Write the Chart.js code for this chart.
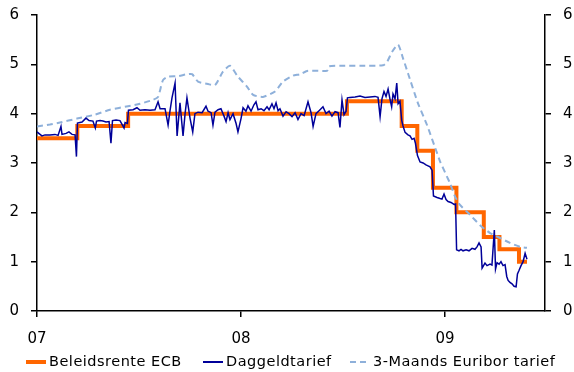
<!DOCTYPE html>
<html>
<head>
<meta charset="utf-8">
<script src="https://cdn.jsdelivr.net/npm/chart.js@4/dist/chart.umd.min.js"></script>
<style>
  html, body { margin: 0; padding: 0; background: #fff; }
  #wrap { position: relative; width: 574px; height: 372px; overflow: hidden; }
  #c { position: absolute; left: 0; top: 0; }
  #legend { position: absolute; left: 0; top: 352px; width: 574px; height: 20px;
            font-family: 'DejaVu Sans', Verdana, sans-serif; font-size: 14.5px; color: #000; }
  #legend .item { position: absolute; top: 0; height: 20px; white-space: nowrap; }
  #legend svg { position: absolute; left: 0; top: 0; }
  #legend .txt { position: absolute; top: 1px; line-height: 17px; letter-spacing: 0.5px; }
</style>
</head>
<body>
<div id="wrap">
  <canvas id="c" width="574" height="372"></canvas>
  <div id="legend"></div>
</div>
<script>
// Time axis is measured in months since January 2007.
const yearTickMonths = [0, 12, 24];
const yearLabels = ['07', '08', '09'];

// ECB main refinancing rate (%), value valid from each change date.
const ecbMonths = [0, 2.37, 5.36, 18.23, 21.45, 22.37, 23.29, 24.67, 26.28, 27.20, 28.35, 28.82];
const ecbRates  = [3.50, 3.75, 4.00, 4.25, 3.75, 3.25, 2.50, 2.00, 1.50, 1.25, 1.00, 1.00];

// Overnight rate (%).
const overnightMonths = [
  0.00, 0.18, 0.29, 0.47, 0.76, 1.06, 1.24, 1.41, 1.47, 1.71,
  1.88, 2.06, 2.24, 2.32, 2.38, 2.65, 2.88, 3.06, 3.29, 3.43,
  3.50, 3.71, 3.88, 4.06, 4.24, 4.35, 4.44, 4.65, 4.88, 5.12,
  5.18, 5.32, 5.38, 5.65, 5.88, 6.06, 6.35, 6.65, 6.94, 7.12,
  7.24, 7.53, 7.71, 7.82, 7.94, 8.12, 8.24, 8.41, 8.59, 8.71,
  8.82, 9.00, 9.16, 9.29, 9.47, 9.71, 9.94, 10.06, 10.24, 10.35,
  10.47, 10.65, 10.82, 11.00, 11.12, 11.24, 11.35, 11.53, 11.71, 11.82,
  12.00, 12.12, 12.29, 12.41, 12.59, 12.76, 12.88, 13.00, 13.18, 13.35,
  13.53, 13.65, 13.82, 13.94, 14.06, 14.18, 14.29, 14.47, 14.65, 14.82,
  15.00, 15.18, 15.35, 15.53, 15.71, 15.94, 16.12, 16.24, 16.41, 16.59,
  16.82, 17.00, 17.18, 17.35, 17.53, 17.71, 17.82, 17.94, 18.06, 18.18,
  18.26, 18.41, 18.71, 19.00, 19.29, 19.59, 19.88, 20.06, 20.18, 20.29,
  20.41, 20.53, 20.65, 20.76, 20.86, 20.94, 21.06, 21.16, 21.24, 21.35,
  21.45, 21.53, 21.65, 21.82, 21.94, 22.06, 22.18, 22.26, 22.38, 22.53,
  22.71, 22.88, 23.12, 23.24, 23.32, 23.53, 23.71, 23.82, 23.94, 24.06,
  24.18, 24.35, 24.53, 24.62, 24.68, 24.82, 24.94, 25.06, 25.24, 25.41,
  25.59, 25.76, 25.88, 26.00, 26.12, 26.18, 26.35, 26.47, 26.65, 26.76,
  26.90, 26.97, 27.06, 27.18, 27.29, 27.41, 27.53, 27.63, 27.71, 27.82,
  27.94, 28.06, 28.18, 28.26, 28.35, 28.47, 28.59, 28.71, 28.82
];
const overnightRates = [
  3.63, 3.58, 3.55, 3.57, 3.57, 3.58, 3.56, 3.74, 3.58, 3.60,
  3.63, 3.58, 3.57, 3.13, 3.81, 3.83, 3.91, 3.86, 3.85, 3.71,
  3.85, 3.86, 3.85, 3.83, 3.84, 3.40, 3.86, 3.87, 3.86, 3.71,
  3.82, 3.80, 4.07, 4.08, 4.12, 4.07, 4.08, 4.07, 4.08, 4.24,
  4.10, 4.10, 3.77, 4.05, 4.32, 4.62, 3.55, 4.22, 3.55, 4.00,
  4.32, 3.91, 3.63, 4.00, 4.03, 4.02, 4.15, 4.05, 4.02, 3.77,
  4.03, 4.08, 4.10, 3.95, 3.84, 4.02, 3.88, 4.00, 3.80, 3.63,
  3.90, 4.12, 4.05, 4.16, 4.05, 4.18, 4.24, 4.08, 4.10, 4.06,
  4.14, 4.08, 4.20, 4.10, 4.22, 4.06, 4.10, 3.95, 4.04, 4.00,
  3.94, 4.02, 3.88, 4.00, 3.96, 4.24, 4.02, 3.74, 4.00, 4.06,
  4.14, 4.00, 4.05, 3.95, 4.04, 4.02, 3.72, 4.28, 3.98, 4.05,
  4.32, 4.33, 4.34, 4.36, 4.33, 4.34, 4.35, 4.33, 3.94, 4.30,
  4.45, 4.35, 4.50, 4.30, 4.14, 4.40, 4.30, 4.62, 4.20, 4.25,
  3.87, 3.75, 3.62, 3.57, 3.55, 3.48, 3.50, 3.40, 3.15, 3.02,
  3.00, 2.96, 2.92, 2.85, 2.33, 2.30, 2.28, 2.27, 2.37, 2.26,
  2.22, 2.20, 2.16, 2.17, 1.24, 1.22, 1.25, 1.22, 1.24, 1.22,
  1.27, 1.25, 1.30, 1.38, 1.30, 0.87, 0.97, 0.92, 0.95, 0.93,
  1.64, 0.85, 0.98, 0.95, 1.00, 0.92, 0.94, 0.70, 0.62, 0.58,
  0.55, 0.50, 0.49, 0.75, 0.82, 0.92, 1.00, 1.17, 1.05
];

// 3-month Euribor (%).
const euriborMonths = [
  0.00, 0.76, 1.35, 2.35, 3.41, 4.29, 5.35, 6.06, 6.82, 7.12,
  7.41, 7.71, 8.29, 8.82, 9.12, 9.47, 10.06, 10.47, 10.94, 11.35,
  11.82, 12.35, 12.71, 13.29, 14.00, 14.47, 15.06, 15.47, 15.94, 17.06,
  17.18, 18.12, 19.00, 20.35, 20.59, 20.88, 21.24, 21.53, 21.82, 22.41,
  22.94, 23.53, 23.71, 24.12, 24.29, 24.59, 24.88, 25.47, 26.06, 26.65,
  27.24, 27.82, 28.41, 28.82
];
const euriborRates = [
  3.74, 3.78, 3.82, 3.90, 3.98, 4.08, 4.15, 4.20, 4.28, 4.34,
  4.68, 4.75, 4.76, 4.80, 4.80, 4.65, 4.60, 4.58, 4.85, 4.97,
  4.75, 4.55, 4.38, 4.34, 4.45, 4.65, 4.77, 4.80, 4.87, 4.87,
  4.96, 4.97, 4.97, 4.98, 5.05, 5.25, 5.40, 5.12, 4.82, 4.21,
  3.77, 3.20, 3.03, 2.72, 2.59, 2.32, 2.15, 1.95, 1.74, 1.58,
  1.48, 1.38, 1.30, 1.28
];

const seriesNames = ['Beleidsrente ECB', 'Daggeldtarief', '3-Maands Euribor tarief'];

function toPoints(xs, ys) {
  const n = Math.min(xs.length, ys.length);
  const out = [];
  for (let i = 0; i < n; i++) out.push({ x: xs[i], y: ys[i] });
  return out;
}

const FONT = "'DejaVu Sans', Verdana, sans-serif";
Chart.defaults.font.family = FONT;
Chart.defaults.font.size = 14;
Chart.defaults.color = '#000';

const blackGrid = { display: true, drawOnChartArea: false, drawTicks: true, tickLength: 6, color: '#000', lineWidth: 1.5 };
const blackBorder = { display: true, color: '#000', width: 1.5 };

function yAxis(position, width) {
  return {
    position,
    min: 0,
    max: 6,
    ticks: { stepSize: 1, padding: 12, color: '#000', font: { size: 15 } },
    grid: blackGrid,
    border: blackBorder,
    afterFit(scale) {
      scale.width = width;
      scale.paddingTop = 0;
      scale.paddingBottom = 0;
    }
  };
}

const chart = new Chart(document.getElementById('c'), {
  type: 'line',
  data: {
    datasets: [
      {
        label: seriesNames[0],
        data: toPoints(ecbMonths, ecbRates),
        borderColor: '#FF6600',
        borderWidth: 4,
        stepped: true,
        pointRadius: 0,
        order: 2
      },
      {
        label: seriesNames[1],
        data: toPoints(overnightMonths, overnightRates),
        borderColor: '#000099',
        borderWidth: 1.5,
        pointRadius: 0,
        tension: 0,
        order: 0
      },
      {
        label: seriesNames[2],
        data: toPoints(euriborMonths, euriborRates),
        borderColor: '#8EB0DA',
        borderWidth: 2,
        borderDash: [6, 4],
        pointRadius: 0,
        tension: 0.2,
        order: 1
      }
    ]
  },
  options: {
    responsive: false,
    animation: false,
    devicePixelRatio: 1,
    layout: { padding: { top: 15, bottom: 25, left: 0, right: 0 } },
    plugins: {
      tooltip: { enabled: false },
      legend: { display: false }
    },
    scales: {
      x: {
        type: 'linear',
        min: 0,
        max: 29.88,
        afterBuildTicks(scale) {
          scale.ticks = yearTickMonths.map(v => ({ value: v }));
        },
        afterFit(scale) { scale.height = 36; },
        ticks: {
          autoSkip: false,
          maxRotation: 0,
          padding: 13,
          color: '#000',
          font: { size: 15 },
          callback(value) {
            const i = yearTickMonths.indexOf(value);
            return i >= 0 ? yearLabels[i] : '';
          }
        },
        grid: blackGrid,
        border: blackBorder
      },
      y: yAxis('left', 37),
      y2: yAxis('right', 29)
    }
  }
});

// Legend row below the axis, built from the datasets' own styles.
const legendLeft = [26, 203, 350];
const legend = document.getElementById('legend');
chart.data.datasets.forEach((ds, i) => {
  const item = document.createElement('div');
  item.className = 'item';
  item.style.left = legendLeft[i] + 'px';
  const dash = ds.borderDash ? ds.borderDash.join(',') : 'none';
  const w = ds.borderWidth === 4 ? 4 : (ds.borderDash ? 2 : 2);
  item.innerHTML =
    '<svg width="22" height="20"><line x1="0" y1="10" x2="20" y2="10" stroke="' + ds.borderColor +
    '" stroke-width="' + w + '" stroke-dasharray="' + dash + '"/></svg>';
  const txt = document.createElement('span');
  txt.className = 'txt';
  txt.style.left = '23px';
  txt.textContent = ds.label;
  item.appendChild(txt);
  legend.appendChild(item);
});
</script>
</body>
</html>
